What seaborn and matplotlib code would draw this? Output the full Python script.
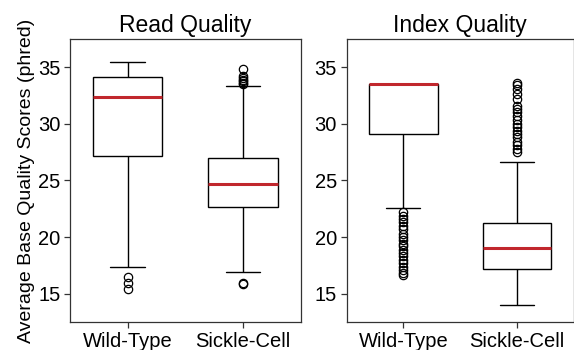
import numpy as np
import pandas as pd
import matplotlib
matplotlib.use("Agg")
import matplotlib.pyplot as plt
import seaborn as sns

# groups on the x axis
groups = ["Wild-Type", "Sickle-Cell"]

# Read quality box statistics
read_whislo = [17.4, 16.9]
read_q1 = [27.2, 22.65]
read_med = [32.4, 24.65]
read_q3 = [34.1, 26.95]
read_whishi = [35.5, 33.3]
read_out_wt = [16.45, 15.95, 15.4]
read_out_sc = [15.85, 15.95, 33.5, 33.6, 33.75, 33.9, 34.05, 34.2, 34.8]

# Index quality box statistics
index_whislo = [22.6, 14.0]
index_q1 = [29.1, 17.15]
index_med = [33.5, 19.0]
index_q3 = [33.5, 21.25]
index_whishi = [33.5, 26.6]
index_out_wt = [22.2, 21.9, 21.6, 21.3, 21.0, 20.7, 20.3, 20.0, 19.7, 19.4,
                19.2, 18.9, 18.6, 18.3, 18.0, 17.7, 17.4, 17.1, 16.8, 16.65]
index_out_sc = [27.5, 27.8, 28.1, 28.4, 28.8, 29.1, 29.4, 29.7, 30.0, 30.3,
                30.7, 31.0, 31.3, 31.6, 32.2, 32.6, 33.1, 33.4, 33.6]

REP = 60  # repeats so that quartiles land exactly on the given values


def build(lo, q1, med, q3, hi, outliers):
    rows = []
    for i, g in enumerate(groups):
        vals = [lo[i]] + [q1[i]] * REP + [med[i]] * REP + [q3[i]] * REP + [hi[i]] + outliers[i]
        rows += [(g, v) for v in vals]
    return pd.DataFrame(rows, columns=["group", "score"])


read_df = build(read_whislo, read_q1, read_med, read_q3, read_whishi, [read_out_wt, read_out_sc])
index_df = build(index_whislo, index_q1, index_med, index_q3, index_whishi, [index_out_wt, index_out_sc])

sns.set_style("ticks")
plt.rcParams["font.family"] = ["Liberation Sans", "DejaVu Sans"]
plt.rcParams["axes.linewidth"] = 0.9
plt.rcParams["axes.edgecolor"] = "#333333"
plt.rcParams["text.color"] = "black"
plt.rcParams["axes.labelcolor"] = "black"
plt.rcParams["xtick.labelcolor"] = "black"
plt.rcParams["ytick.labelcolor"] = "black"

fig = plt.figure(figsize=(5.74, 3.5), dpi=100)
ax1 = fig.add_axes([0.122, 0.08, 0.402, 0.809])
ax2 = fig.add_axes([0.604, 0.08, 0.3955, 0.809])

box_kws = dict(
    x="group", y="score", order=groups, width=0.6, color="white",
    linecolor="black", linewidth=1.0, whis=1.5,
    medianprops={"color": "#C1272D", "linewidth": 2.2},
    flierprops={"marker": "o", "markersize": 6, "markerfacecolor": "none",
                "markeredgecolor": "black", "markeredgewidth": 0.9},
)

for ax, df, title in [(ax1, read_df, "Read Quality"), (ax2, index_df, "Index Quality")]:
    sns.boxplot(data=df, ax=ax, **box_kws)
    ax.set_title(title, fontsize=16.5, pad=5)
    ax.set_ylim(12.5, 37.5)
    ax.set_xlim(-0.5, 1.5)
    ax.set_yticks([15, 20, 25, 30, 35])
    ax.set_xlabel("")
    ax.set_ylabel("")
    ax.tick_params(labelsize=14.5, length=4, width=0.9, color="#333333", pad=3)
    for s in ax.spines.values():
        s.set_visible(True)

ax1.set_ylabel("Average Base Quality Scores (phred)", fontsize=14, labelpad=2)

fig.savefig("out.png", dpi=100)
